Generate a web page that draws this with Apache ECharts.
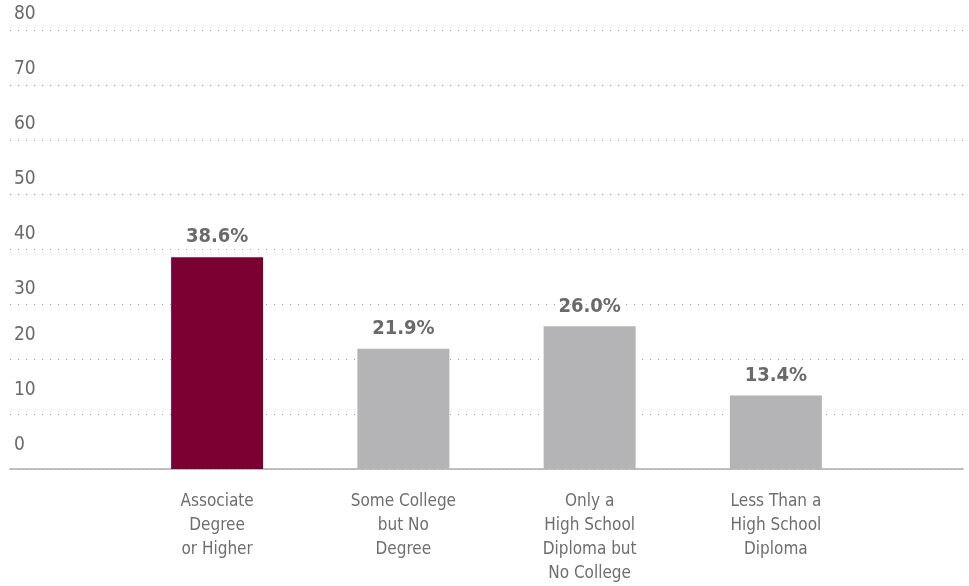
<!DOCTYPE html>
<html>
<head>
<meta charset="utf-8">
<script src="https://cdn.jsdelivr.net/npm/echarts@6/dist/echarts.min.js"></script>
<style>
html,body{margin:0;padding:0;background:#fff;}
#c{width:969px;height:586px;}
</style>
</head>
<body>
<div id="c"></div>
<script>
const categories = ["Associate\nDegree\nor Higher", "Some College\nbut No\nDegree", "Only a\nHigh School\nDiploma but\nNo College", "Less Than a\nHigh School\nDiploma"];
const values = [38.6, 21.9, 26.0, 13.4];
const yTicks = [0, 10, 20, 30, 40, 50, 60, 70, 80];
const highlightIndex = 0;

const FONT = '"Liberation Sans Narrow", "DejaVu Sans Condensed", "Roboto", sans-serif';
const chart = echarts.init(document.getElementById('c'));
chart.setOption({
  animation: false,
  grid: [
    {left: 10, right: 6, top: 30, bottom: 117},
    {left: 124, right: 100, top: 30, bottom: 117}
  ],
  xAxis: [
    {gridIndex: 0, type: 'category', data: [''], axisLine: {show: true, lineStyle: {color: '#aaaaaa', width: 1.5}},
      axisTick: {show: false}, axisLabel: {show: false}, splitLine: {show: false}},
    {gridIndex: 1, type: 'category', data: categories, axisLine: {show: false}, axisTick: {show: false},
      axisLabel: {interval: 0, fontFamily: FONT, fontSize: 17, lineHeight: 24, color: '#6e6e6e', margin: 21}}
  ],
  yAxis: [
    {gridIndex: 0, type: 'value', min: yTicks[0], max: yTicks[yTicks.length - 1], interval: 10,
      axisLine: {show: false}, axisTick: {show: false},
      splitLine: {show: true, lineStyle: {color: '#a0a0a0', type: [1, 7], width: 1}},
      axisLabel: {inside: true, margin: 4, align: 'left', verticalAlign: 'bottom',
        formatter: v => (v <= 20 ? '{lo|' + v + '}' : '{hi|' + v + '}'),
        rich: {
          hi: {fontFamily: FONT, fontSize: 19, lineHeight: 31, color: '#6a6a6a'},
          lo: {fontFamily: FONT, fontSize: 19, lineHeight: 48, color: '#6a6a6a'}
        }}},
    {gridIndex: 1, type: 'value', min: yTicks[0], max: yTicks[yTicks.length - 1], interval: 10, show: false,
      splitLine: {show: false}}
  ],
  series: [{
    type: 'bar',
    xAxisIndex: 1, yAxisIndex: 1,
    data: values,
    barWidth: 92,
    itemStyle: {color: p => (p.dataIndex === highlightIndex ? '#790030' : '#b4b4b6')},
    label: {show: true, position: 'top', distance: 10, formatter: p => p.value.toFixed(1) + '%',
      fontFamily: FONT, fontSize: 20, fontWeight: 'bold', color: '#6a6a6a'}
  }]
});
</script>
</body>
</html>
